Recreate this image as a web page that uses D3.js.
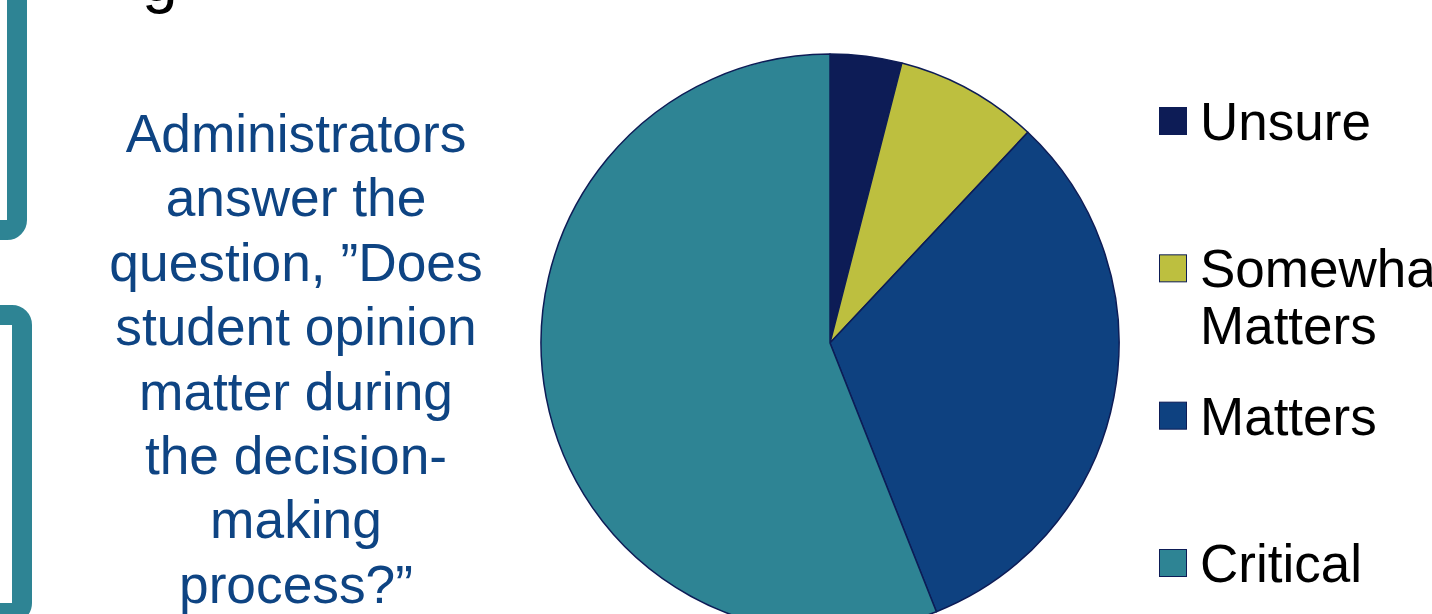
<!DOCTYPE html>
<html>
<head>
<meta charset="utf-8">
<script src="https://cdn.jsdelivr.net/npm/d3@7"></script>
<style>
html,body{margin:0;padding:0;background:#fff;overflow:hidden;}
svg{display:block;font-family:"Liberation Sans",Arial,sans-serif;}
</style>
</head>
<body>
<svg id="chart" width="1432" height="614"></svg>
<script>
// Data
const categories = ["Unsure", "Somewhat Matters", "Matters", "Critical"];
const values = [4, 8, 32, 56];
const legendLines = [["Unsure"], ["Somewhat", "Matters"], ["Matters"], ["Critical"]];
const colors = ["#0D1C56", "#BDBF3F", "#0E4180", "#2E8494"];
const questionLines = ["Administrators", "answer the", "question, \u201DDoes", "student opinion",
  "matter during", "the decision-", "making", "process?\u201D"];

const svg = d3.select("#chart");

// decorative brackets (left)
svg.append("rect").attr("x", -60).attr("y", -60).attr("width", 77).attr("height", 290)
  .attr("rx", 10).attr("fill", "none").attr("stroke", "#2E8494").attr("stroke-width", 20);
svg.append("rect").attr("x", -60).attr("y", 315).attr("width", 82).attr("height", 298)
  .attr("rx", 10).attr("fill", "none").attr("stroke", "#2E8494").attr("stroke-width", 20);

// title fragment (cut off at top)
svg.append("text").attr("x", 142).attr("y", 1).attr("font-size", 64).attr("fill", "#000").text("g");

// question text
const q = svg.append("text").attr("text-anchor", "middle").attr("font-size", 53.3).attr("fill", "#0E4483");
questionLines.forEach((l, i) => {
  q.append("tspan").attr("x", 296).attr("y", 152 + i * 64.4).text(l);
});

// pie
const color = d3.scaleOrdinal().domain(categories).range(colors);
const pie = d3.pie().sort(null).value(d => d.v);
const arc = d3.arc().innerRadius(0).outerRadius(289);
const data = categories.map((c, i) => ({ c, v: values[i] }));
svg.append("g").attr("transform", "translate(830,343)")
  .selectAll("path").data(pie(data)).join("path")
  .attr("d", arc).attr("fill", d => color(d.data.c))
  .attr("stroke", "#0D1C56").attr("stroke-width", 1.5).attr("stroke-linejoin", "round");

// legend
const ly = d3.scalePoint().domain(categories).range([140, 582]);
const lg = svg.append("g").selectAll("g").data(categories).join("g")
  .attr("transform", d => `translate(0,${ly(d)})`);
lg.append("rect").attr("x", 1159.5).attr("y", -32.5).attr("width", 27).attr("height", 27)
  .attr("fill", d => color(d)).attr("stroke", "#0D1C56").attr("stroke-width", 1);
lg.each(function (d, i) {
  const t = d3.select(this).append("text").attr("font-size", 53).attr("fill", "#000");
  legendLines[i].forEach((l, j) => {
    t.append("tspan").attr("x", 1200).attr("y", j * 57).text(l);
  });
});
</script>
</body>
</html>
